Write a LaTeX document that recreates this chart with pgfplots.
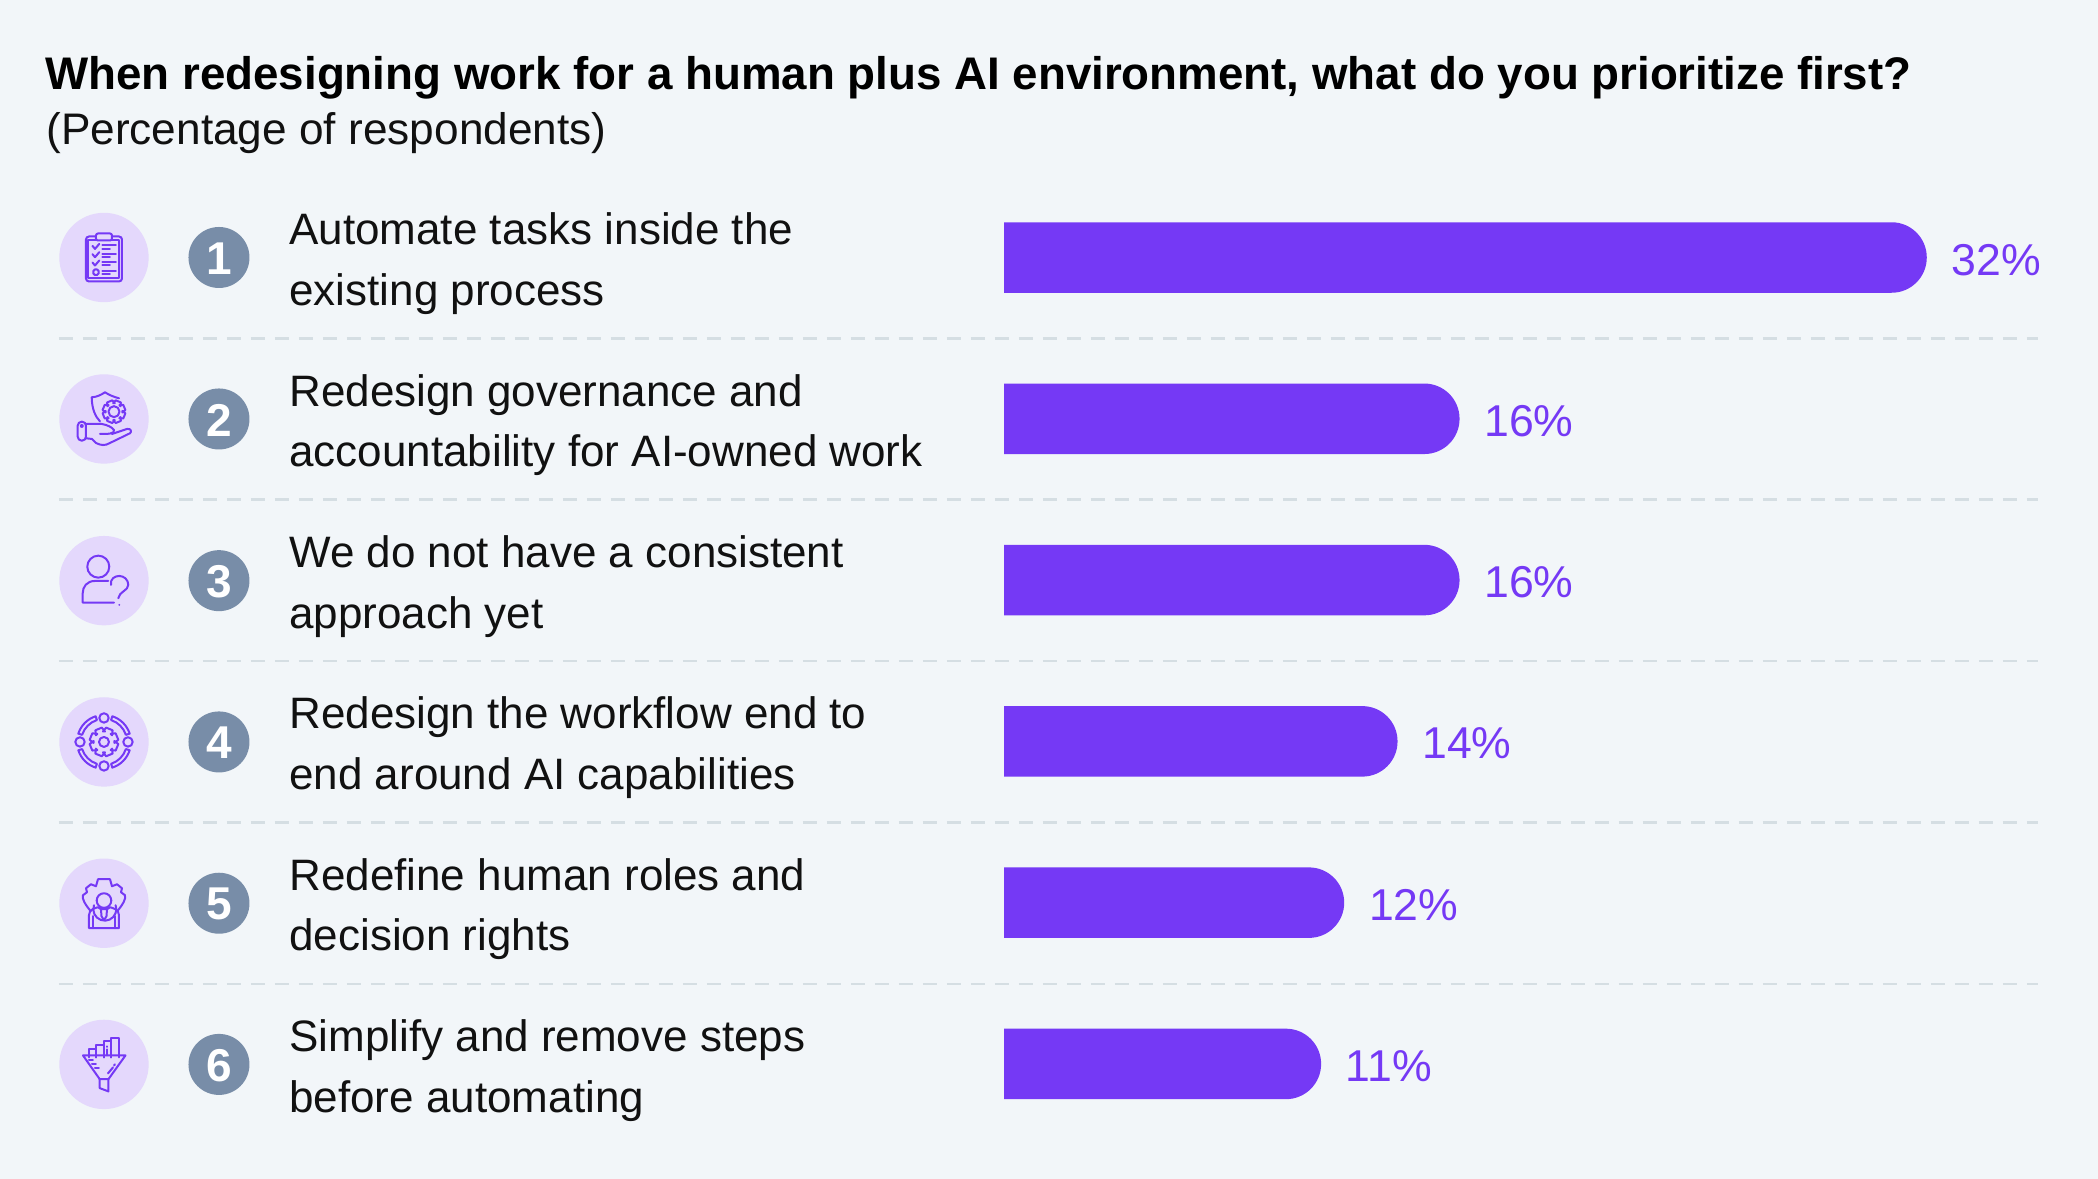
\documentclass[border=0pt]{standalone}
\usepackage{pgfplots}
\pgfplotsset{compat=1.18}
\usepackage{fontspec}
\setmainfont{Liberation Sans}
\definecolor{bg}{HTML}{F2F6F9}
\definecolor{barc}{HTML}{7539F5}
\definecolor{circ}{HTML}{E4D8FC}
\definecolor{badge}{HTML}{788DA8}
\definecolor{dashc}{HTML}{D5DEE3}
\definecolor{ink}{HTML}{111111}
\newcommand{\gearshape}[6]{% cx cy rout rin teeth halfstep
  \draw[shift={(#1,#2)}] (0:#4)
    \foreach \a in {0,#6,...,359} { -- (\a+#5-#5*0.62*2:#4) -- (\a+#5-#5*0.62:#3) -- (\a+#5+#5*0.62:#3) -- (\a+#5+#5*0.62*2:#4)} -- cycle;}
\begin{document}
\begin{tikzpicture}
\begin{scope}[x=0.5pt,y=-0.5pt]
\fill[bg] (0,0) rectangle (2098,1179);
\node[anchor=base west,inner sep=0,font=\fontsize{22.85}{26}\selectfont\bfseries,text=black] at (45,90) {When redesigning work for a human plus AI environment, what do you prioritize first?};
\node[anchor=base west,inner sep=0,font=\fontsize{22.1}{26}\selectfont,text=ink] at (46,145) {(Percentage of respondents)};
\foreach \y in {257.5,419,580.7,742,903.3,1064.5} {
  \fill[circ] (104,\y) circle (44.7);
  \fill[badge] (219,\y) circle (30.5);
}
\foreach \y/\n in {257.5/1,419/2,580.7/3,742/4,903.3/5,1064.5/6}
  \node[font=\fontsize{23}{26}\selectfont\bfseries,text=white,inner sep=0] at (219,\y+1) {\n};
\begin{scope}[barc,line width=1pt,line join=round,line cap=round]
% icon 1 clipboard
\begin{scope}[shift={(104,257.5)}]
\draw[rounded corners=1.5pt] (-8,-21) -- (-18,-21) -- (-18,24) -- (18,24) -- (18,-21) -- (8,-21);
\draw (-8,-17) -- (-15.5,-17) -- (-15.5,21) -- (15.5,21) -- (15.5,-17) -- (8,-17);
\draw[rounded corners=1pt] (-8,-24) rectangle (8,-17);
\foreach \r in {-10.6,-2.3,6} {
  \draw (-11.5,\r-1) -- (-9,\r+2) -- (-4.7,\r-3);
  \draw (-1.7,\r-1.5) -- (12,\r-1.5);
  \draw (-1.7,\r+2) -- (6,\r+2);
}
\draw[rounded corners=0.8pt] (-10.7,12) rectangle (-5.3,17.5);
\draw (-1.7,13.3) -- (12,13.3);
\draw (-1.7,16.5) -- (6,16.5);
\end{scope}
% icon 2 hand, shield, gear
\begin{scope}[shift={(104,419)}]
\draw (-4,2.5) .. controls (-9,-3) and (-12,-10) .. (-12.3,-21.7) .. controls (-7,-22) and (-3,-24) .. (1,-26.7) .. controls (5,-24) and (10,-22) .. (15,-20.7);
\gearshape{10}{-7.3}{11.5}{8.5}{22.5}{45}
\draw (10,-7.3) circle (5.5);
\draw[rounded corners=2pt] (-26.3,2.7) rectangle (-18,21.7);
\fill (-22.2,7) circle (2);
\draw (-18,5) -- (-2,5) .. controls (3,6) and (8,8) .. (10,11) .. controls (11,15) and (4,15) .. (-4,15);
\draw (8,15) -- (23,10) .. controls (27,9) and (28,13) .. (26,14.3) -- (6,24) .. controls (1,27) and (-3,26.5) .. (-8,24) -- (-12,20) -- (-18,19.3);
\end{scope}
% icon 3 person question
\begin{scope}[shift={(104,580.7)}]
\draw (-5.7,-14) circle (11);
\draw (4.3,0.3) -- (-9,0.3) .. controls (-17,0.3) and (-21.3,6) .. (-21.3,12.6) -- (-21.3,22) -- (10,22);
\draw (7,4.3) .. controls (6,-2) and (11,-4.7) .. (15.3,-4.7) .. controls (20,-4.7) and (24.3,-1) .. (24.3,4.3) .. controls (24.3,10) and (15,11) .. (14.3,17.6);
\fill (15.3,24.3) circle (1);
\end{scope}
% icon 4 gear ring
\begin{scope}[shift={(104,742)}]
\draw (0,0) circle (5);
\gearshape{0}{0}{14.5}{10.5}{22.5}{45}
\foreach \a in {0,90,180,270} {
  \draw (\a:24) circle (4.7);
  \draw[rotate=\a] (18:23) arc (18:72:23) -- (72:27) arc (72:18:27) -- cycle;
}
\end{scope}
% icon 5 person in gear
\begin{scope}[shift={(104,903.3)}]
\draw (-14,7) .. controls (-19,1) and (-22,-4) .. (-21,-8) -- (-17,-11) -- (-18,-15) -- (-13,-19) -- (-8,-17) -- (-6,-24) -- (6,-24) -- (8,-17) -- (13,-19) -- (18,-15) -- (17,-11) -- (21,-8) .. controls (22,-4) and (19,1) .. (14,7);
\draw (-10,2) arc (200:-20:11.5);
\draw (0,-2.7) circle (7.3);
\draw (-15,25) -- (-15,12) .. controls (-15,6) and (-9,5) .. (-6,4) -- (-3,6) -- (3,6) -- (6,4) .. controls (9,5) and (15,6) .. (15,12) -- (15,25) -- cycle;
\draw (-3,6) -- (-2.5,13) -- (0,17) -- (2.5,13) -- (3,6);
\draw (-11,13) -- (-11,25) (11,13) -- (11,25);
\end{scope}
% icon 6 funnel
\begin{scope}[shift={(104,1064.5)}]
\draw (-21,-9) -- (21.5,-9) -- (4.5,14.7) -- (-4.3,14.7) -- cycle;
\draw (-4.3,14.7) -- (-4.3,23.7) -- (4.5,27) -- (4.5,14.7);
\draw (-14.5,-7) -- (-14.5,-15.7) -- (-7.7,-15.7) -- (-7.7,-7);
\draw (-7.7,-7) -- (-7.7,-19) -- (-0.3,-19) -- (-0.3,-7);
\draw (-0.3,-7) -- (-0.3,-23) -- (7,-23) -- (7,-7);
\draw (7,-7) -- (7,-26.3) -- (15,-26.3) -- (15,-7);
\draw (3.5,-15) -- (3.5,-9) (3.5,-18) -- (3.5,-17.5);
\draw (-15,-4) -- (-11,-4) (-12,0) -- (-8,0) (-9,4) -- (-5,4);
\draw (4,9) -- (9,3) (10,1) -- (11,0);
\end{scope}
\end{scope}
\end{scope}
\begin{axis}[
  at={(481.8pt,-572.325pt)},anchor=south west,
  scale only axis,width=567.2pt,height=483.9pt,
  xmin=-1.4,xmax=37.93,ymin=0.5,ymax=6.5,y dir=reverse,
  x coord trafo/.code={\pgfmathparse{#1+1.3}},
  x coord inv trafo/.code={\pgfmathparse{#1-1.3}},
  axis line style={draw=none},
  major tick length=0pt,
  xtick=\empty,
  ytick={1,2,3,4,5,6},
  yticklabels={{Automate tasks inside the\\existing process},
    {Redesign governance and\\accountability for AI-owned work},
    {We do not have a consistent\\approach yet},
    {Redesign the workflow end to\\end around AI capabilities},
    {Redefine human roles and\\decision rights},
    {Simplify and remove steps\\before automating}},
  yticklabel style={anchor=west,align=left,inner sep=0pt,xshift=-337.3pt,yshift=-3.2pt,
    font=\fontsize{22}{30.3}\selectfont,text=ink},
  xbar,bar width=35.25pt,
  nodes near coords,point meta=explicit symbolic,
  nodes near coords style={anchor=west,inner sep=0pt,xshift=12.2pt,yshift=-1.1pt,
    font=\fontsize{22.3}{26}\selectfont,text=barc},
]
\addplot[fill=barc,draw=none,rounded corners=17.6pt] coordinates {
 (32,1) [32\%]
 (15.8,2) [16\%]
 (15.8,3) [16\%]
 (13.65,4) [14\%]
 (11.8,5) [12\%]
 (11,6) [11\%]
};
\end{axis}
\begin{scope}[x=0.5pt,y=-0.5pt]
% square off the left end of the bars at the zero line
\fill[bg] (958,200) rectangle (1004,1120);
\foreach \y in {338.3,499.6,661,822.2,984}
  \draw[dashc,line width=1.4pt,dash pattern=on 7pt off 5pt] (59,\y) -- (2038,\y);
\end{scope}
\end{tikzpicture}
\end{document}
